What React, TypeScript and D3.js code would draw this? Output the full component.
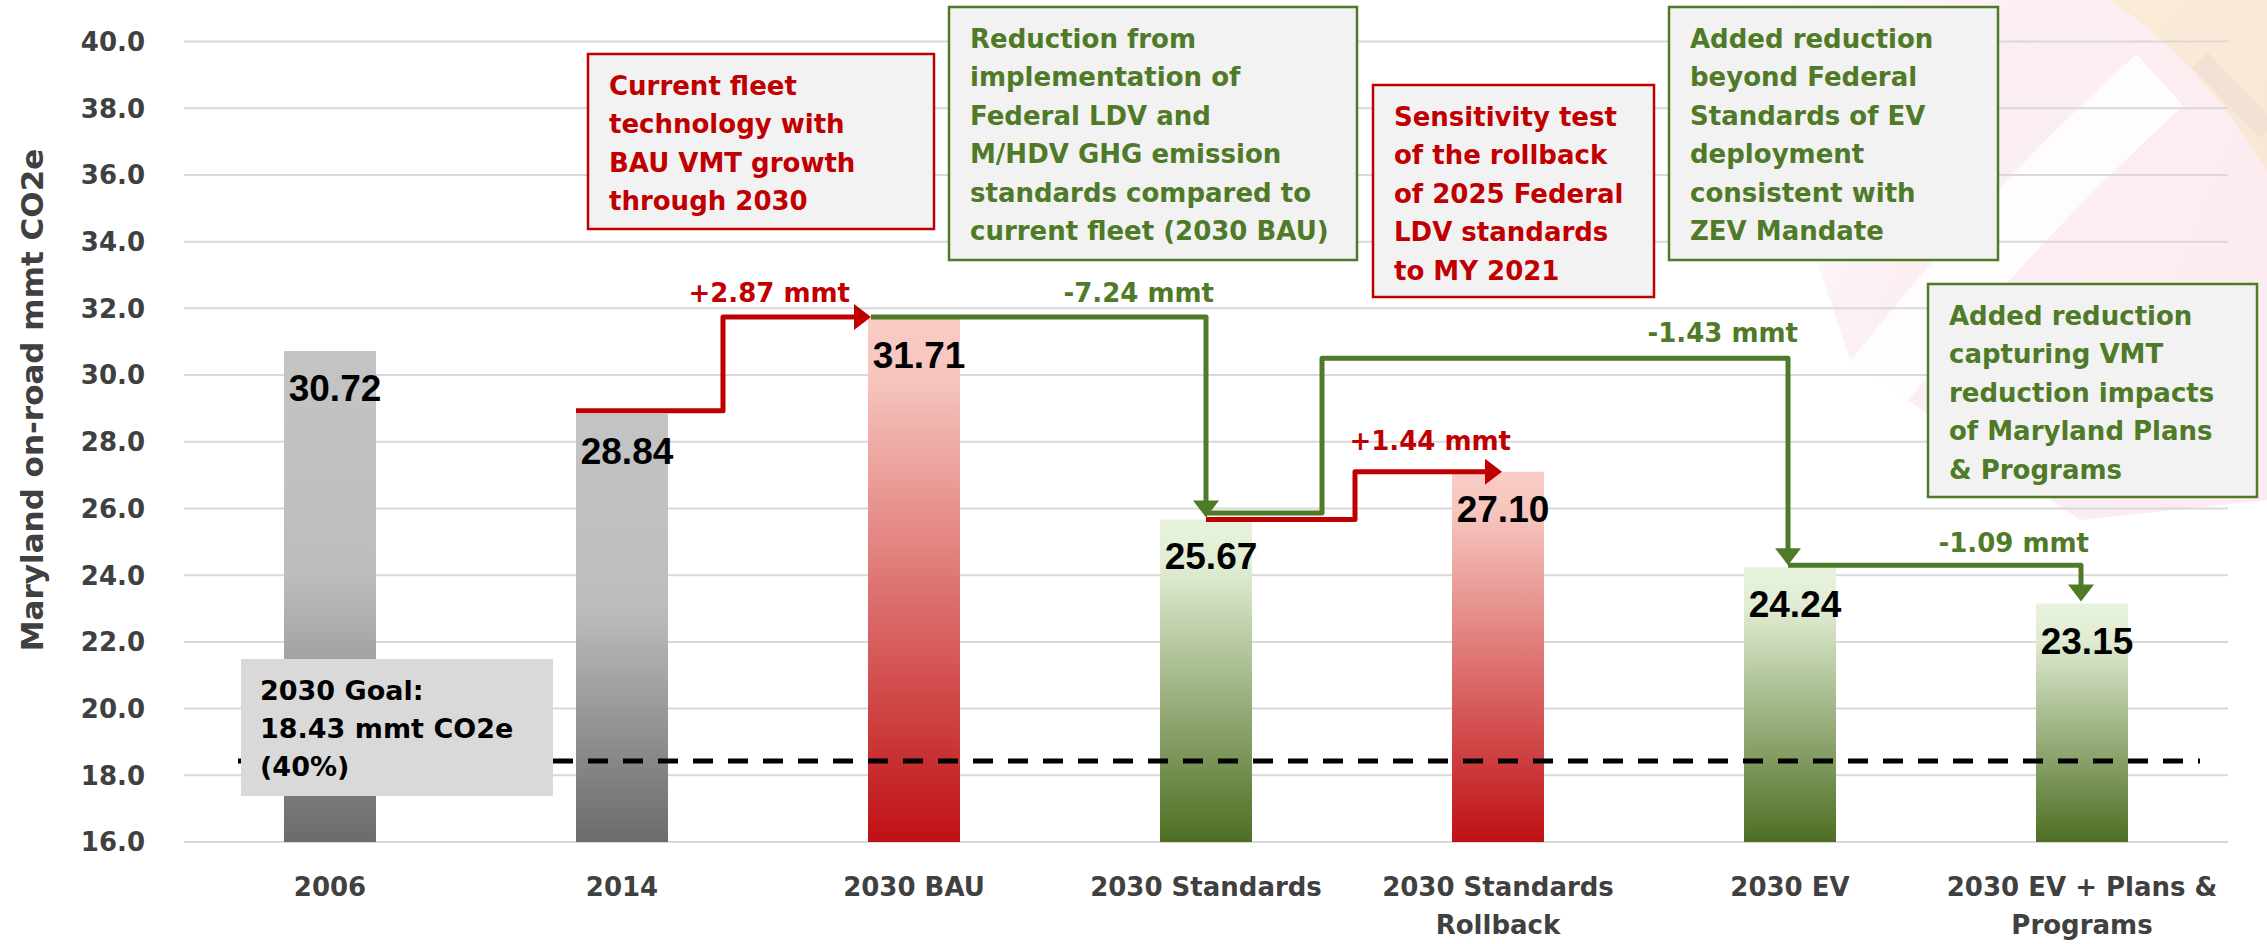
import React from "react";
import * as d3 from "d3";

// bars
const categories = ["2006", "2014", "2030 BAU", "2030 Standards", "2030 Standards Rollback", "2030 EV", "2030 EV + Plans & Programs"];
const categoryLines = [["2006"], ["2014"], ["2030 BAU"], ["2030 Standards"], ["2030 Standards", "Rollback"], ["2030 EV"], ["2030 EV + Plans &", "Programs"]];
const values = [30.72, 28.84, 31.71, 25.67, 27.1, 24.24, 23.15];
const tones = ["gray", "gray", "red", "green", "red", "green", "green"];
const yTicks = [16, 18, 20, 22, 24, 26, 28, 30, 32, 34, 36, 38, 40];

// goal
const goalValue = 18.43;
const goalLines = ["2030 Goal:", "18.43 mmt CO2e", "(40%)"];

// step connectors between scenarios
const stepFrom = [1, 2, 3, 3, 5];
const stepTo = [2, 3, 4, 5, 6];
const stepLabels = ["+2.87 mmt", "-7.24 mmt", "+1.44 mmt", "-1.43 mmt", "-1.09 mmt"];
const stepTones = ["red", "green", "red", "green", "green"];
const detourValue = 30.5; // level the -1.43 connector climbs to

// call-out notes
const noteTones = ["red", "green", "red", "green", "green"];
const noteLines = [
  ["Current fleet", "technology with", "BAU VMT growth", "through 2030"],
  ["Reduction from", "implementation of", "Federal LDV and", "M/HDV GHG emission", "standards compared to", "current fleet (2030 BAU)"],
  ["Sensitivity test", "of the rollback", "of 2025 Federal", "LDV standards", "to MY 2021"],
  ["Added reduction", "beyond Federal", "Standards of EV", "deployment", "consistent with", "ZEV Mandate"],
  ["Added reduction", "capturing VMT", "reduction impacts", "of Maryland Plans", "& Programs"],
];
// layout of the note boxes [x, y, w, h]
const noteBoxes = [
  [588, 54, 346, 175],
  [949, 7, 408, 253],
  [1373, 85, 281, 212],
  [1669, 7, 329, 253],
  [1928, 284, 329, 213],
];

const W = 2267, H = 944;
const RED = "#c00000";
const GREEN = "#4f7a28";
const AXIS = "#404040";
const FONT = "'DejaVu Sans', sans-serif";
const NUM_FONT = "'Liberation Sans', Arial, sans-serif";
const toneColor = (t: string) => (t === "red" ? RED : GREEN);

const gradStops: Record<string, [number, string][]> = {
  gray: [[0, "#c4c4c4"], [0.45, "#bdbdbd"], [1, "#6b6b6b"]],
  red: [[0, "#f9ccc6"], [0.12, "#f6c4bd"], [1, "#bf1014"]],
  green: [[0, "#e7f3dd"], [0.15, "#e0ecd2"], [1, "#4d6e22"]],
};

export default function App() {
  const x = d3.scaleBand<string>().domain(categories).range([184, 2228]).paddingInner(0.685).paddingOuter(0.3425);
  const y = d3.scaleLinear().domain([16, 40]).range([842, 41.5]);
  const bw = x.bandwidth();
  const left = (i: number) => x(categories[i]) as number;
  const mid = (i: number) => left(i) + bw / 2;
  const top = (i: number) => y(values[i]);

  // connector routes: path points, arrow direction, label anchor
  const routes: { pts: [number, number][]; dir: "right" | "down"; lx: number; ly: number }[] = [];
  {
    const a = stepFrom[0], b = stepTo[0];
    const rx = left(a) + bw + 55;
    const tip = left(b) + 3;
    routes.push({ pts: [[left(a), top(a) - 3], [rx, top(a) - 3], [rx, top(b) - 1], [tip, top(b) - 1]], dir: "right", lx: tip - 21, ly: top(b) - 16 });
  }
  {
    const a = stepFrom[1], b = stepTo[1];
    const sx = left(a) + 3;
    routes.push({ pts: [[sx, top(a) - 1], [mid(b), top(a) - 1], [mid(b), top(b) - 2]], dir: "down", lx: mid(b) + 8, ly: top(a) - 16 });
  }
  {
    const a = stepFrom[2], b = stepTo[2];
    const rx = (mid(a) + mid(b)) / 2 + 3;
    const tip = mid(b) + 4;
    routes.push({ pts: [[mid(a), top(a)], [rx, top(a)], [rx, top(b)], [tip, top(b)]], dir: "right", lx: tip + 9, ly: top(b) - 22 });
  }
  {
    const a = stepFrom[3], b = stepTo[3];
    const rx = mid(a) + 116;
    const yd = y(detourValue);
    const ex = mid(b) - 2;
    routes.push({ pts: [[mid(a), top(a) - 6.5], [rx, top(a) - 6.5], [rx, yd], [ex, yd], [ex, top(b) - 2]], dir: "down", lx: ex + 10, ly: yd - 16 });
  }
  {
    const a = stepFrom[4], b = stepTo[4];
    const sx = mid(a) - 2;
    const ex = mid(b) - 1;
    routes.push({ pts: [[sx, top(a) - 2], [ex, top(a) - 2], [ex, top(b) - 2]], dir: "down", lx: ex + 8, ly: top(a) - 15 });
  }

  const line = d3.line();

  const arrowHead = (pts: [number, number][], dir: string) => {
    const [tx, ty] = pts[pts.length - 1];
    if (dir === "right") return `M${tx},${ty} L${tx - 17},${ty - 13} L${tx - 17},${ty + 13} Z`;
    return `M${tx},${ty} L${tx - 13},${ty - 17} L${tx + 13},${ty - 17} Z`;
  };
  const trimmed = (pts: [number, number][], dir: string) => {
    const p = pts.map((d) => [...d] as [number, number]);
    const last = p[p.length - 1];
    if (dir === "right") last[0] -= 12;
    else last[1] -= 12;
    return p;
  };

  const goalY = y(goalValue);

  return (
    <svg width={W} height={H} style={{ position: "absolute", left: 0, top: 0, background: "#fff" }}>
      <defs>
        {Object.entries(gradStops).map(([k, stops]) => (
          <linearGradient key={k} id={`g-${k}`} x1="0" y1="0" x2="0" y2="1">
            {stops.map(([o, c]) => (
              <stop key={o} offset={o} stopColor={c} />
            ))}
          </linearGradient>
        ))}
        <linearGradient id="wm-pink" x1="0" y1="0" x2="1" y2="0.4">
          <stop offset="0" stopColor="#f3c6d0" stopOpacity="0" />
          <stop offset="0.45" stopColor="#f0b8c6" stopOpacity="0.22" />
          <stop offset="1" stopColor="#ee9fb2" stopOpacity="0.2" />
        </linearGradient>
        <linearGradient id="wm-yellow" x1="0" y1="0" x2="1" y2="1">
          <stop offset="0" stopColor="#f8e6a8" stopOpacity="0.35" />
          <stop offset="1" stopColor="#f3d98a" stopOpacity="0.25" />
        </linearGradient>
      </defs>

      {/* faint watermark in the upper right */}
      <g>
        <path d="M1730,0 L2267,0 L2267,500 L2080,520 L1850,360 Z" fill="url(#wm-pink)" />
        <path d="M1790,500 Q1960,260 2160,80" fill="none" stroke="#ffffff" strokeOpacity="0.8" strokeWidth="70" />
        <path d="M2110,0 L2267,0 L2267,170 Q2200,60 2110,0 Z" fill="url(#wm-yellow)" />
        <path d="M2200,60 L2267,130" stroke="#d8d0d0" strokeOpacity="0.25" strokeWidth="22" />
      </g>

      {/* gridlines */}
      {yTicks.map((t) => (
        <line key={t} x1={184} x2={2228} y1={y(t)} y2={y(t)} stroke="#d9d9d9" strokeWidth={2} />
      ))}

      {/* y tick labels */}
      {yTicks.map((t) => (
        <text key={t} x={145} y={y(t)} dy="0.36em" textAnchor="end" fontFamily={FONT} fontWeight="bold" fontSize={26} fill={AXIS}>
          {d3.format(".1f")(t)}
        </text>
      ))}

      <text transform={`translate(43,400) rotate(-90)`} textAnchor="middle" fontFamily={FONT} fontWeight="bold" fontSize={31} fill={AXIS}>
        Maryland on-road mmt CO2e
      </text>

      {/* bars */}
      {values.map((v, i) => (
        <rect key={i} x={left(i)} y={y(v)} width={bw} height={y(16) - y(v)} fill={`url(#g-${tones[i]})`} />
      ))}

      {/* goal line */}
      <line x1={238} x2={2200} y1={goalY} y2={goalY} stroke="#000" strokeWidth={5} strokeDasharray="20 15" />
      <rect x={241} y={659} width={312} height={137} fill="#d9d9d9" />
      {goalLines.map((s, k) => (
        <text key={k} x={260} y={700 + k * 38} fontFamily={FONT} fontWeight="bold" fontSize={27} fill="#000">
          {s}
        </text>
      ))}

      {/* value labels */}
      {values.map((v, i) => (
        <text key={i} x={mid(i) + 5} y={y(v) + 50} textAnchor="middle" fontFamily={NUM_FONT} fontWeight="bold" fontSize={37} fill="#000">
          {d3.format(".2f")(v)}
        </text>
      ))}

      {/* category labels */}
      {categoryLines.map((ls, i) => (
        <text key={i} textAnchor="middle" fontFamily={FONT} fontWeight="bold" fontSize={26} fill={AXIS}>
          {ls.map((s, k) => (
            <tspan key={k} x={mid(i)} y={896 + k * 38}>
              {s}
            </tspan>
          ))}
        </text>
      ))}

      {/* step connectors */}
      {routes.map((r, i) => (
        <g key={i}>
          <path d={line(trimmed(r.pts, r.dir)) as string} fill="none" stroke={toneColor(stepTones[i])} strokeWidth={5} strokeLinejoin="round" />
          <path d={arrowHead(r.pts, r.dir)} fill={toneColor(stepTones[i])} />
          <text x={r.lx} y={r.ly} textAnchor="end" fontFamily={FONT} fontWeight="bold" fontSize={26} fill={toneColor(stepTones[i])}>
            {stepLabels[i]}
          </text>
        </g>
      ))}

      {/* notes */}
      {noteLines.map((ls, i) => {
        const [bx, by, bwd, bh] = noteBoxes[i];
        const c = toneColor(noteTones[i]);
        return (
          <g key={i}>
            <rect x={bx} y={by} width={bwd} height={bh} fill="#f2f2f2" stroke={c} strokeWidth={2.5} />
            {ls.map((s, k) => (
              <text key={k} x={bx + 21} y={by + 41 + k * 38.4} fontFamily={FONT} fontWeight="bold" fontSize={26} fill={c}>
                {s}
              </text>
            ))}
          </g>
        );
      })}
    </svg>
  );
}
